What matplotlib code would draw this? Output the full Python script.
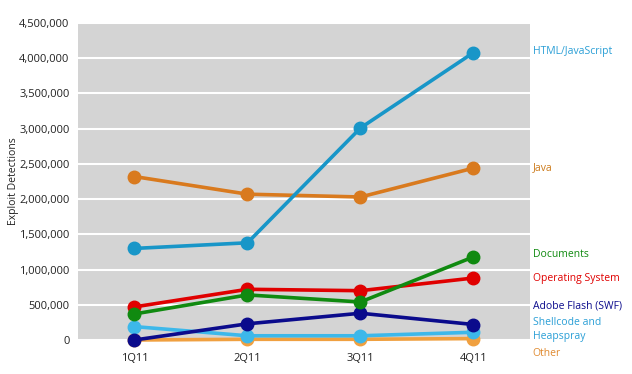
import matplotlib.pyplot as plt
from matplotlib.ticker import FuncFormatter
from matplotlib.transforms import blended_transform_factory

plt.rcParams['font.family'] = ['Open Sans', 'DejaVu Sans']

quarters = ['1Q11', '2Q11', '3Q11', '4Q11']

html_js = [1300000, 1380000, 3010000, 4080000]
java = [2320000, 2070000, 2030000, 2440000]
documents = [370000, 640000, 540000, 1180000]
operating_system = [470000, 720000, 700000, 880000]
adobe_flash = [0, 230000, 380000, 220000]
shellcode = [190000, 60000, 60000, 110000]
other = [0, 10000, 10000, 20000]

# drawn bottom to top
series = [
    ('Other', other, '#f0a040', '#e08a30', -190000),
    ('Shellcode and\nHeapspray', shellcode, '#3db8ea', '#2a9fd6', 150000),
    ('Adobe Flash (SWF)', adobe_flash, '#0b0b8c', '#0b0b8c', 480000),
    ('Operating System', operating_system, '#e00000', '#e00000', 870000),
    ('Documents', documents, '#108a10', '#108a10', 1220000),
    ('Java', java, '#d97a1e', '#cc7a1a', 2440000),
    ('HTML/JavaScript', html_js, '#1896c8', '#2a9fd6', 4090000),
]

fig = plt.figure(figsize=(6.32, 3.74), dpi=100)
ax = fig.add_axes([0.1234, 0.0909, 0.7152, 0.8476])
ax.set_facecolor('#d4d4d4')

x = list(range(len(quarters)))
trans = blended_transform_factory(ax.transAxes, ax.transData)
for name, vals, color, label_color, label_y in series:
    ax.plot(x, vals, color=color, linewidth=2.6, marker='o', markersize=9,
            clip_on=False, zorder=3)
    ax.text(1.006, label_y, name, transform=trans, color=label_color,
            fontsize=7.5, va='center', ha='left', linespacing=1.4)

ax.set_xlim(-0.5, 3.5)
ax.set_ylim(0, 4500000)
ax.set_yticks(range(0, 4500001, 500000))
ax.yaxis.set_major_formatter(FuncFormatter(lambda v, p: f'{int(v):,}'))
ax.set_xticks(x)
ax.set_xticklabels(quarters)
ax.grid(axis='y', color='white', linewidth=1.5)
ax.set_axisbelow(True)
for s in ax.spines.values():
    s.set_visible(False)
ax.tick_params(length=0, labelsize=8, colors='#222222', pad=6)
ax.tick_params(axis='x', pad=9)
ax.set_ylabel('Exploit Detections', fontsize=7.5, color='#222222', labelpad=0)

fig.savefig('out.png', dpi=100)
